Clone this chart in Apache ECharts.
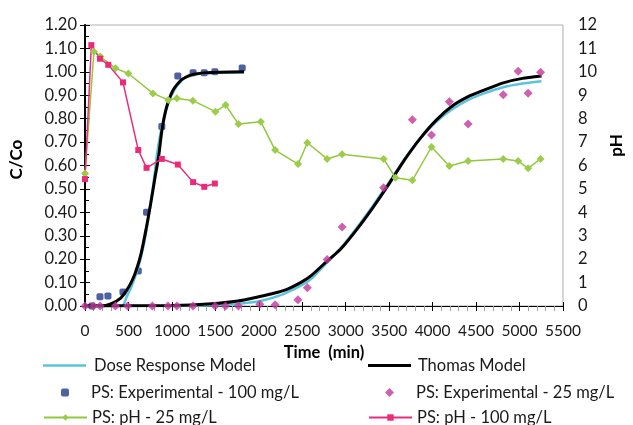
<!DOCTYPE html>
<html>
<head>
<meta charset="utf-8">
<script src="https://cdn.jsdelivr.net/npm/echarts@6/dist/echarts.min.js"></script>
<style>
html,body{margin:0;padding:0;background:#fff;}
#chart{width:633px;height:425px;}
</style>
</head>
<body>
<div id="chart"></div>
<script>
// ---- Data ----
// Experimental C/Co, 100 mg/L
var exp100Time = [80, 172, 264, 437, 613, 708, 884, 1068, 1244, 1372, 1494, 1809];
var exp100CCo  = [0.00, 0.04, 0.043, 0.06, 0.15, 0.40, 0.767, 0.982, 0.996, 0.996, 1.00, 1.016];

// pH, 100 mg/L
var ph100Time = [0, 73, 172, 268, 437, 613, 708, 884, 1068, 1244, 1372, 1494];
var ph100Val  = [5.42, 11.14, 10.56, 10.30, 9.55, 6.66, 5.90, 6.28, 6.04, 5.29, 5.09, 5.23];

// Experimental C/Co, 25 mg/L
var exp25Time = [0, 95, 175, 350, 490, 775, 955, 1057, 1243, 1497, 1617, 1765, 2012, 2188, 2450, 2559, 2786, 2959, 3436, 3767, 3987, 4192, 4409, 4813, 4985, 5099, 5242];
var exp25CCo  = [0, 0, 0, 0, 0, 0, 0, 0, 0, 0, 0, 0, 0.008, 0.005, 0.027, 0.078, 0.199, 0.337, 0.505, 0.795, 0.730, 0.872, 0.777, 0.902, 1.002, 0.909, 0.998];

// pH, 25 mg/L
var ph25Time = [0, 103, 176, 352, 499, 782, 958, 1057, 1241, 1501, 1619, 1766, 2023, 2188, 2452, 2559, 2786, 2959, 3436, 3572, 3767, 3987, 4192, 4409, 4813, 4985, 5099, 5242];
var ph25Val  = [5.66, 10.86, 10.65, 10.15, 9.93, 9.08, 8.80, 8.87, 8.77, 8.30, 8.58, 7.77, 7.87, 6.66, 6.06, 6.97, 6.28, 6.48, 6.28, 5.48, 5.37, 6.79, 5.98, 6.19, 6.28, 6.19, 5.88, 6.28];

// Thomas model curves
var thomas100Time = [0, 187, 297, 407, 481, 536, 591, 646, 701, 756, 811, 848, 885, 940, 1013, 1105, 1215, 1399, 1830];
var thomas100CCo  = [0, 0, 0.009, 0.033, 0.068, 0.104, 0.154, 0.225, 0.325, 0.438, 0.56, 0.64, 0.751, 0.851, 0.922, 0.965, 0.986, 0.996, 1.0];
var thomas25Time  = [0, 1000, 1505, 1761, 1950, 2150, 2316, 2500, 2610, 2757, 2940, 3124, 3307, 3491, 3675, 3858, 4042, 4226, 4409, 4592, 4813, 5033, 5253];
var thomas25CCo   = [0, 0.002, 0.011, 0.021, 0.035, 0.052, 0.07, 0.104, 0.132, 0.182, 0.242, 0.325, 0.417, 0.517, 0.623, 0.716, 0.794, 0.854, 0.894, 0.922, 0.953, 0.972, 0.982];

// Dose response model curves
var dose100Time = [0, 426, 481, 536, 591, 646, 701, 756, 793, 830, 885, 958, 1050, 1142, 1289, 1583, 1830];
var dose100CCo  = [0, 0, 0.04, 0.083, 0.14, 0.21, 0.31, 0.44, 0.54, 0.652, 0.766, 0.866, 0.936, 0.972, 0.99, 0.996, 0.997];
var dose25Time  = [0, 1000, 1505, 1761, 2018, 2275, 2500, 2610, 2757, 2940, 3124, 3307, 3491, 3675, 3858, 4042, 4226, 4409, 4592, 4813, 5033, 5253];
var dose25CCo   = [0, 0, 0.003, 0.009, 0.021, 0.05, 0.09, 0.118, 0.175, 0.246, 0.332, 0.425, 0.524, 0.627, 0.716, 0.787, 0.84, 0.88, 0.908, 0.934, 0.95, 0.96];

// Axis ticks
var xTicks = [0, 500, 1000, 1500, 2000, 2500, 3000, 3500, 4000, 4500, 5000, 5500];
var leftTicks = [0, 0.1, 0.2, 0.3, 0.4, 0.5, 0.6, 0.7, 0.8, 0.9, 1.0, 1.1, 1.2];
var rightTicks = [0, 1, 2, 3, 4, 5, 6, 7, 8, 9, 10, 11, 12];

// Series names
var NAME_DOSE = 'Dose Response Model';
var NAME_THOMAS = 'Thomas Model';
var NAME_EXP100 = 'PS: Experimental - 100 mg/L';
var NAME_EXP25 = 'PS: Experimental - 25 mg/L';
var NAME_PH25 = 'PS: pH - 25 mg/L';
var NAME_PH100 = 'PS: pH - 100 mg/L';

function pairs(xs, ys) { return xs.map(function (x, i) { return [x, ys[i]]; }); }

var FONT = 'Lato';
var LEG_TEXT = {fontFamily: FONT, fontSize: 16.5, color: '#1a1a1a', lineHeight: 16};
function legendItem(name, left, centerY, itemW, itemH, icon, textPad) {
  var l = {
    left: left, top: centerY - 8, padding: 0, itemWidth: itemW, itemHeight: itemH,
    textStyle: Object.assign({}, LEG_TEXT, {padding: [0, 0, 0, textPad || 0]}),
    selectedMode: false,
    data: [name]
  };
  if (icon) l.data = [{name: name, icon: icon}];
  return l;
}

var chart = echarts.init(document.getElementById('chart'), null, {renderer: 'canvas'});

var option = {
  animation: false,
  backgroundColor: '#ffffff',
  textStyle: {fontFamily: FONT, color: '#1a1a1a'},
  grid: {left: 83, right: 50, top: 25, bottom: 119, show: true, borderColor: '#b0b0b0', borderWidth: 1},
  xAxis: [{
    type: 'value', min: xTicks[0], max: xTicks[xTicks.length - 1], interval: 500,
    name: 'Time  (min)', nameLocation: 'middle', nameGap: 30,
    nameTextStyle: {fontFamily: FONT, fontWeight: 'bold', fontSize: 16.5, color: '#000'},
    axisLine: {show: true, onZero: false, lineStyle: {color: '#000', width: 1}},
    axisTick: {show: true, length: 5, lineStyle: {color: '#000'}},
    minorTick: {show: true, splitNumber: 5, length: 5, lineStyle: {color: '#a0a0a0'}},
    axisLabel: {fontFamily: FONT, fontSize: 15.5, color: '#1a1a1a', margin: 17,
      formatter: function (v) { return String(v); }},
    splitLine: {show: false}
  }, {
    type: 'value', min: xTicks[0], max: xTicks[xTicks.length - 1], interval: 500,
    position: 'bottom',
    axisLine: {show: false},
    axisTick: {show: true, inside: true, length: 4, lineStyle: {color: '#000'}},
    axisLabel: {show: false}, splitLine: {show: false}
  }],
  yAxis: [{
    type: 'value', min: leftTicks[0], max: leftTicks[leftTicks.length - 1], interval: 0.1,
    position: 'left',
    name: 'C/Co', nameLocation: 'middle', nameGap: 60,
    nameTextStyle: {fontFamily: FONT, fontWeight: 'bold', fontSize: 17, color: '#000', padding: [0, 0, 0, 12]},
    axisLine: {show: true, lineStyle: {color: '#000', width: 1.5}},
    axisTick: {show: true, length: 5, lineStyle: {color: '#000'}},
    axisLabel: {fontFamily: FONT, fontSize: 16.5, color: '#1a1a1a', margin: 8,
      formatter: function (v) { return v.toFixed(2); }},
    splitLine: {show: false}
  }, {
    type: 'value', min: rightTicks[0], max: rightTicks[rightTicks.length - 1], interval: 1,
    position: 'right',
    name: 'pH', nameLocation: 'middle', nameGap: 41,
    nameTextStyle: {fontFamily: FONT, fontWeight: 'bold', fontSize: 17, color: '#000', padding: [0, 0, 0, 40]},
    axisLine: {show: true, lineStyle: {color: '#000', width: 2}},
    axisTick: {show: true, length: 5, lineStyle: {color: '#000'}},
    minorTick: {show: true, splitNumber: 2, length: 4, lineStyle: {color: '#000'}},
    axisLabel: {fontFamily: FONT, fontSize: 16.5, color: '#1a1a1a', margin: 15},
    splitLine: {show: false}
  }],
  legend: [
    legendItem(NAME_DOSE, 43, 365, 43, 2.5, 'rect', 3),
    legendItem(NAME_EXP100, 61, 392, 8, 8, null, 17),
    legendItem(NAME_PH25, 43, 417, 43, 8, null, 0),
    legendItem(NAME_THOMAS, 368, 365, 43, 3, 'rect', 2),
    legendItem(NAME_EXP25, 385, 392, 9, 9, null, 17),
    legendItem(NAME_PH100, 368, 417, 43, 8, null, 0)
  ],
  series: [
    {
      name: NAME_EXP100, type: 'scatter', xAxisIndex: 0, yAxisIndex: 0,
      symbol: 'roundRect', symbolSize: 7,
      itemStyle: {color: '#22398a'},
      data: pairs(exp100Time, exp100CCo), z: 3
    },
    {
      name: NAME_DOSE, type: 'line', xAxisIndex: 0, yAxisIndex: 0,
      symbol: 'none', smooth: 0.2,
      lineStyle: {color: '#5bc4dc', width: 2.5}, itemStyle: {color: '#5bc4dc'},
      data: pairs(dose100Time, dose100CCo), z: 4
    },
    {
      name: NAME_DOSE, type: 'line', xAxisIndex: 0, yAxisIndex: 0,
      symbol: 'none', smooth: 0.2,
      lineStyle: {color: '#5bc4dc', width: 2.5}, itemStyle: {color: '#5bc4dc'},
      data: pairs(dose25Time, dose25CCo), z: 4
    },
    {
      name: NAME_THOMAS, type: 'line', xAxisIndex: 0, yAxisIndex: 0,
      symbol: 'none', smooth: 0.2,
      lineStyle: {color: '#000000', width: 3}, itemStyle: {color: '#000000'},
      data: pairs(thomas100Time, thomas100CCo), z: 5
    },
    {
      name: NAME_THOMAS, type: 'line', xAxisIndex: 0, yAxisIndex: 0,
      symbol: 'none', smooth: 0.2,
      lineStyle: {color: '#000000', width: 3}, itemStyle: {color: '#000000'},
      data: pairs(thomas25Time, thomas25CCo), z: 5
    },
    {
      name: NAME_EXP25, type: 'scatter', xAxisIndex: 0, yAxisIndex: 0,
      symbol: 'diamond', symbolSize: 9,
      itemStyle: {color: '#c2399b'},
      data: pairs(exp25Time, exp25CCo), z: 6
    },
    {
      name: NAME_PH25, type: 'line', xAxisIndex: 0, yAxisIndex: 1,
      symbol: 'diamond', symbolSize: 8, showAllSymbol: true,
      lineStyle: {color: '#92c83e', width: 1.5}, itemStyle: {color: '#9ccd4a'},
      data: pairs(ph25Time, ph25Val), z: 7
    },
    {
      name: NAME_PH100, type: 'line', xAxisIndex: 0, yAxisIndex: 1,
      symbol: 'rect', symbolSize: 6, showAllSymbol: true,
      lineStyle: {color: '#ec2a7a', width: 1.5}, itemStyle: {color: '#ec2a7a'},
      data: pairs(ph100Time, ph100Val), z: 7
    }
  ]
};
chart.setOption(option);
</script>
</body>
</html>
